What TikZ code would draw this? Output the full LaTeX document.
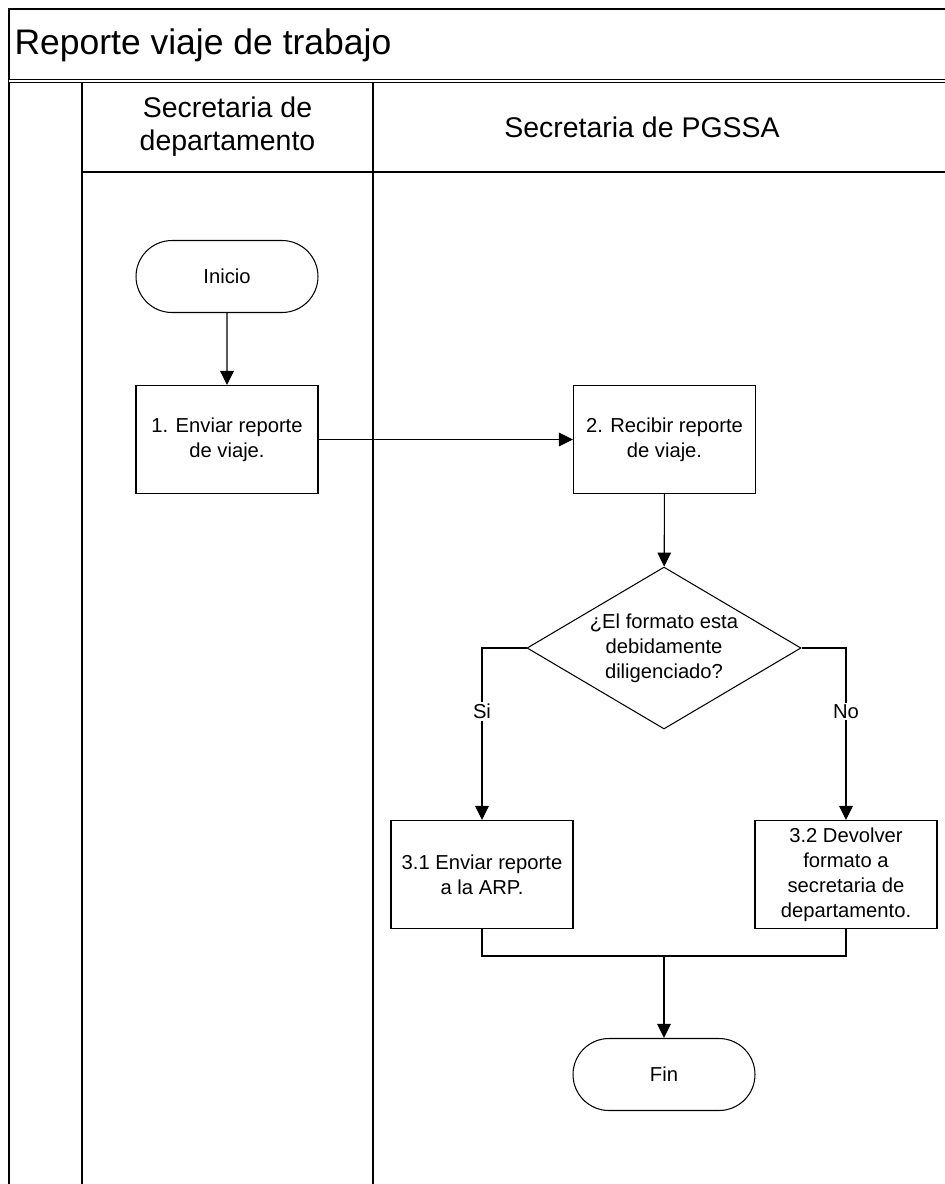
\documentclass[tikz,border=0pt]{standalone}
\usepackage{fontspec}
\setmainfont{Liberation Sans}
\usepackage{tikz}
\usetikzlibrary{arrows.meta,positioning,shapes,calc}

\begin{document}
\begin{tikzpicture}[x=0.02cm, y=-0.02cm, line width=0.6pt, >={Triangle[length=0.28cm,width=0.27cm]},
  step box/.style={rectangle,draw,minimum width=3.64cm,minimum height=2.16cm,inner sep=2pt,align=center,font=\fontsize{11.5}{14.2}\selectfont},
  term node/.style={rounded rectangle,draw,minimum width=3.64cm,minimum height=1.44cm,inner sep=0pt,font=\fontsize{11.5}{14.2}\selectfont},
  dec node/.style={diamond,draw,aspect=1.69,minimum width=5.48cm,minimum height=3.24cm,inner sep=0pt,align=center,font=\fontsize{11.5}{14.2}\selectfont},
  lbl/.style={fill=white,inner sep=1pt,font=\fontsize{11.5}{14.2}\selectfont}]
\useasboundingbox (0,0) rectangle (945,1184);
% pool and lanes
\draw (9,1184) -- (9,9) -- (945,9);
\draw[double,double distance=0.7pt] (9,81) -- (945,81);
\draw (82,82) -- (82,1184);
\draw (373,82) -- (373,1184);
\draw (82,172) -- (945,172);
\node[anchor=west,inner sep=0pt,font=\fontsize{20.2}{24}\selectfont] (title) at (14,45) {Reporte viaje de trabajo};
\node[align=center,inner sep=0pt,font=\fontsize{16.2}{18.8}\selectfont] (laneA) at (227.5,127) {Secretaria de\\departamento};
\node[inner sep=0pt,font=\fontsize{16.2}{18.8}\selectfont] (laneB) at (642,127) {Secretaria de PGSSA};
\begin{scope}
\node[term node] (inicio) at (227,276.5) {Inicio};
\node[step box] (s1) at (227,439.5) {1. Enviar reporte\\de viaje.};
\node[step box] (s2) at (664.5,439.5) {2. Recibir reporte\\de viaje.};
\node[dec node] (dec) at (664,648) {¿El formato esta\\debidamente\\diligenciado?};
\node[step box] (s31) at (482,874.5) {3.1 Enviar reporte\\a la ARP.};
\node[step box] (s32) at (846,874.5) {3.2 Devolver\\formato a\\secretaria de\\departamento.};
\node[term node] (fin) at (664,1074.5) {Fin};
\coordinate (join) at (664,956);
\end{scope}
\begin{scope}[every edge/.style={draw=black,line width=0.6pt,->}]
\draw (inicio) edge (s1);
\draw (s1) edge (s2);
\draw (s2) edge (dec);
\draw[->] (dec.west) -| node[lbl,pos=0.685] (si) {Si} (s31);
\draw[->] (dec.east) -| node[lbl,pos=0.685] (no) {No} (s32);
\draw (s31.south) |- (join);
\draw (s32.south) |- (join);
\draw (join) edge[line width=1pt] (fin);
\end{scope}
\end{tikzpicture}
\end{document}
